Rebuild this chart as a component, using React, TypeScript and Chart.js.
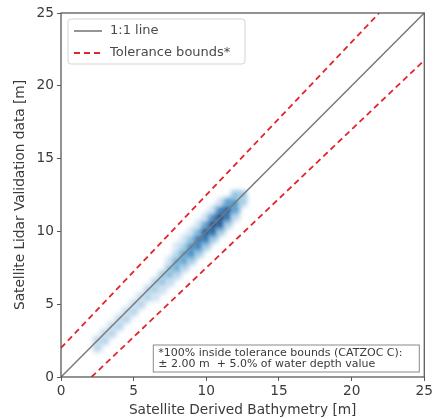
import React, { useEffect, useRef } from "react";
import { Chart, registerables } from "chart.js";

Chart.register(...registerables);

// ---- Data ----
const axisTicks = [0, 5, 10, 15, 20, 25];
const identityX = [0, 25];
const identityY = [0, 25];
const upperBoundX = [0, 21.9];
const upperBoundY = [2, 25];
const lowerBoundX = [2.1, 25];
const lowerBoundY = [0, 21.75];

// density cells (SDB, lidar, relative density)
const cellX = [
  2.5, 2.5, 3.0, 3.0, 3.5, 3.5, 4.0, 4.0, 4.5, 4.5, 5.0, 5.0, 5.5, 5.5, 6.0, 6.0,
  6.5, 6.5, 6.5, 7.0, 7.0, 7.0, 7.5, 7.5, 7.5, 7.5,
  8.0, 8.0, 8.0, 8.0, 8.0,
  8.5, 8.5, 8.5, 8.5, 8.5,
  9.0, 9.0, 9.0, 9.0, 9.0,
  9.5, 9.5, 9.5, 9.5, 9.5,
  10.0, 10.0, 10.0, 10.0, 10.0,
  10.5, 10.5, 10.5, 10.5, 10.5,
  11.0, 11.0, 11.0, 11.0, 11.0,
  11.5, 11.5, 11.5, 11.5,
  12.0, 12.0, 12.0, 12.0,
  12.5, 12.5,
];
const cellY = [
  2.0, 2.5, 2.5, 3.0, 3.0, 3.5, 3.5, 4.0, 4.0, 4.5, 4.5, 5.0, 5.0, 5.5, 5.5, 6.0,
  6.0, 6.5, 5.5, 6.5, 7.0, 6.0, 7.0, 7.5, 6.5, 8.0,
  7.0, 7.5, 8.0, 8.5, 9.0,
  7.5, 8.0, 8.5, 9.0, 9.5,
  8.0, 8.5, 9.0, 9.5, 10.0,
  8.5, 9.0, 9.5, 10.0, 10.5,
  9.0, 9.5, 10.0, 10.5, 11.0,
  9.5, 10.0, 10.5, 11.0, 11.5,
  10.0, 10.5, 11.0, 11.5, 12.0,
  10.5, 11.0, 11.5, 12.0,
  11.0, 11.5, 12.0, 12.5,
  12.0, 12.5,
];
const cellDensity = [
  0.22, 0.2, 0.24, 0.2, 0.24, 0.18, 0.24, 0.18, 0.24, 0.18, 0.24, 0.18, 0.24, 0.18, 0.26, 0.22,
  0.3, 0.25, 0.12, 0.35, 0.3, 0.14, 0.4, 0.35, 0.18, 0.12,
  0.2, 0.45, 0.45, 0.22, 0.08,
  0.22, 0.5, 0.5, 0.28, 0.1,
  0.28, 0.6, 0.6, 0.35, 0.12,
  0.3, 0.65, 0.7, 0.4, 0.12,
  0.3, 0.7, 0.85, 0.5, 0.15,
  0.3, 0.75, 0.9, 0.6, 0.15,
  0.3, 0.8, 1.0, 0.65, 0.15,
  0.25, 0.7, 0.85, 0.5,
  0.2, 0.5, 0.6, 0.35,
  0.28, 0.32,
];

const legendLabels = ["1:1 line", "Tolerance bounds*"];
const noteLines = [
  "*100% inside tolerance bounds (CATZOC C):",
  "\u00B1 2.00 m  + 5.0% of water depth value",
];

// ---- Styling helpers ----
const BLUES = [
  [247, 251, 255], [222, 235, 247], [198, 219, 239], [158, 202, 225],
  [107, 174, 214], [66, 146, 198], [33, 113, 181], [8, 81, 156], [8, 48, 107],
];
function blues(v: number): string {
  const t = Math.max(0, Math.min(1, 0.08 + v * 1.0)) * (BLUES.length - 1);
  const i = Math.min(BLUES.length - 2, Math.floor(t));
  const f = t - i;
  const c = BLUES[i].map((a, k) => Math.round(a + (BLUES[i + 1][k] - a) * f));
  return `rgb(${c[0]},${c[1]},${c[2]})`;
}

const FONT = "'DejaVu Sans', sans-serif";
const GRAY_LINE = "#7a7a7a";
const RED = "#e3242b";
const TEXT = "#3a3a3a";

const blurPlugin = {
  id: "densityBlur",
  beforeDatasetDraw(chart: any, args: any) {
    if (args.index === 0) {
      chart.ctx.save();
      chart.ctx.filter = "blur(2.6px)";
    }
  },
  afterDatasetDraw(chart: any, args: any) {
    if (args.index === 0) {
      chart.ctx.restore();
    }
  },
};

const framePlugin = {
  id: "frameAndOverlays",
  afterDraw(chart: any) {
    const { ctx, chartArea: a } = chart;
    ctx.save();
    ctx.strokeStyle = "#5a5a5a";
    ctx.lineWidth = 1.3;
    ctx.strokeRect(a.left, a.top, a.right - a.left, a.bottom - a.top);

    // legend
    const lx = a.left + 7, ly = a.top + 6, lw = 177, lh = 45;
    ctx.fillStyle = "rgba(255,255,255,0.85)";
    ctx.strokeStyle = "#d4d4d4";
    ctx.lineWidth = 1;
    ctx.beginPath();
    (ctx as any).roundRect(lx, ly, lw, lh, 3);
    ctx.fill();
    ctx.stroke();
    ctx.font = `13px ${FONT}`;
    ctx.textBaseline = "middle";
    ctx.textAlign = "left";
    ctx.strokeStyle = GRAY_LINE;
    ctx.lineWidth = 1.6;
    ctx.beginPath();
    ctx.moveTo(lx + 6, ly + 12);
    ctx.lineTo(lx + 34, ly + 12);
    ctx.stroke();
    ctx.fillStyle = "#4a4a4a";
    ctx.fillText(legendLabels[0], lx + 42, ly + 12);
    ctx.strokeStyle = RED;
    ctx.lineWidth = 1.8;
    ctx.setLineDash([6, 4]);
    ctx.beginPath();
    ctx.moveTo(lx + 6, ly + 34);
    ctx.lineTo(lx + 34, ly + 34);
    ctx.stroke();
    ctx.setLineDash([]);
    ctx.fillText(legendLabels[1], lx + 42, ly + 34);

    // note box
    const bx = a.right - 271, by = a.bottom - 32, bw = 266, bh = 27;
    ctx.fillStyle = "rgba(255,255,255,0.9)";
    ctx.fillRect(bx, by, bw, bh);
    ctx.strokeStyle = "#8a8a8a";
    ctx.lineWidth = 1;
    ctx.strokeRect(bx, by, bw, bh);
    ctx.fillStyle = TEXT;
    ctx.font = `11px ${FONT}`;
    ctx.fillText(noteLines[0], bx + 5, by + 8);
    ctx.fillText(noteLines[1], bx + 5, by + 19);
    ctx.restore();
  },
};

export default function App() {
  const ref = useRef<HTMLCanvasElement>(null);
  useEffect(() => {
    if (!ref.current) return;
    const cells = cellX.map((x, i) => ({ x, y: cellY[i] }));
    const toXY = (xs: number[], ys: number[]) => xs.map((x, i) => ({ x, y: ys[i] }));
    const chart = new Chart(ref.current, {
      type: "scatter",
      data: {
        datasets: [
          {
            label: "density",
            data: cells,
            pointStyle: "rect",
            pointRadius: 6,
            pointBorderWidth: 0,
            backgroundColor: cellDensity.map(blues),
            order: 3,
          } as any,
          {
            label: legendLabels[0],
            data: toXY(identityX, identityY),
            showLine: true,
            borderColor: GRAY_LINE,
            borderWidth: 1.5,
            pointRadius: 0,
            order: 2,
          },
          {
            label: legendLabels[1],
            data: toXY(upperBoundX, upperBoundY),
            showLine: true,
            borderColor: RED,
            borderWidth: 1.8,
            borderDash: [6, 4],
            pointRadius: 0,
            order: 1,
          },
          {
            label: "lower",
            data: toXY(lowerBoundX, lowerBoundY),
            showLine: true,
            borderColor: RED,
            borderWidth: 1.8,
            borderDash: [6, 4],
            pointRadius: 0,
            order: 1,
          },
        ],
      },
      options: {
        responsive: false,
        animation: false,
        layout: { padding: { top: 13, right: 9, left: 0, bottom: 0 } },
        plugins: { legend: { display: false }, tooltip: { enabled: false } },
        scales: {
          x: {
            type: "linear",
            min: 0,
            max: 25,
            afterBuildTicks: (s: any) => { s.ticks = axisTicks.map((v) => ({ value: v })); },
            afterFit: (s: any) => { s.height = 42; },
            border: { display: false },
            grid: { drawOnChartArea: false, tickLength: 4, color: "#5a5a5a", lineWidth: 1 },
            ticks: { color: TEXT, font: { family: FONT, size: 13.7 }, padding: 2, maxRotation: 0 },
            title: { display: true, text: "Satellite Derived Bathymetry [m]", color: TEXT, font: { family: FONT, size: 13.7 }, padding: { top: 1, bottom: 0 } },
          },
          y: {
            type: "linear",
            min: 0,
            max: 25,
            afterBuildTicks: (s: any) => { s.ticks = axisTicks.map((v) => ({ value: v })); },
            afterFit: (s: any) => { s.width = 61; },
            border: { display: false },
            grid: { drawOnChartArea: false, tickLength: 4, color: "#5a5a5a", lineWidth: 1 },
            ticks: { color: TEXT, font: { family: FONT, size: 13.7 }, padding: 3 },
            title: { display: true, text: "Satellite Lidar Validation data [m]", color: TEXT, font: { family: FONT, size: 13.7 }, padding: { top: 12, bottom: 0 } },
          },
        },
      },
      plugins: [blurPlugin, framePlugin],
    });
    return () => chart.destroy();
  }, []);
  return (
    <div style={{ position: "absolute", left: 0, top: 0, width: 435, height: 419 }}>
      <canvas ref={ref} width={435} height={419} />
    </div>
  );
}
